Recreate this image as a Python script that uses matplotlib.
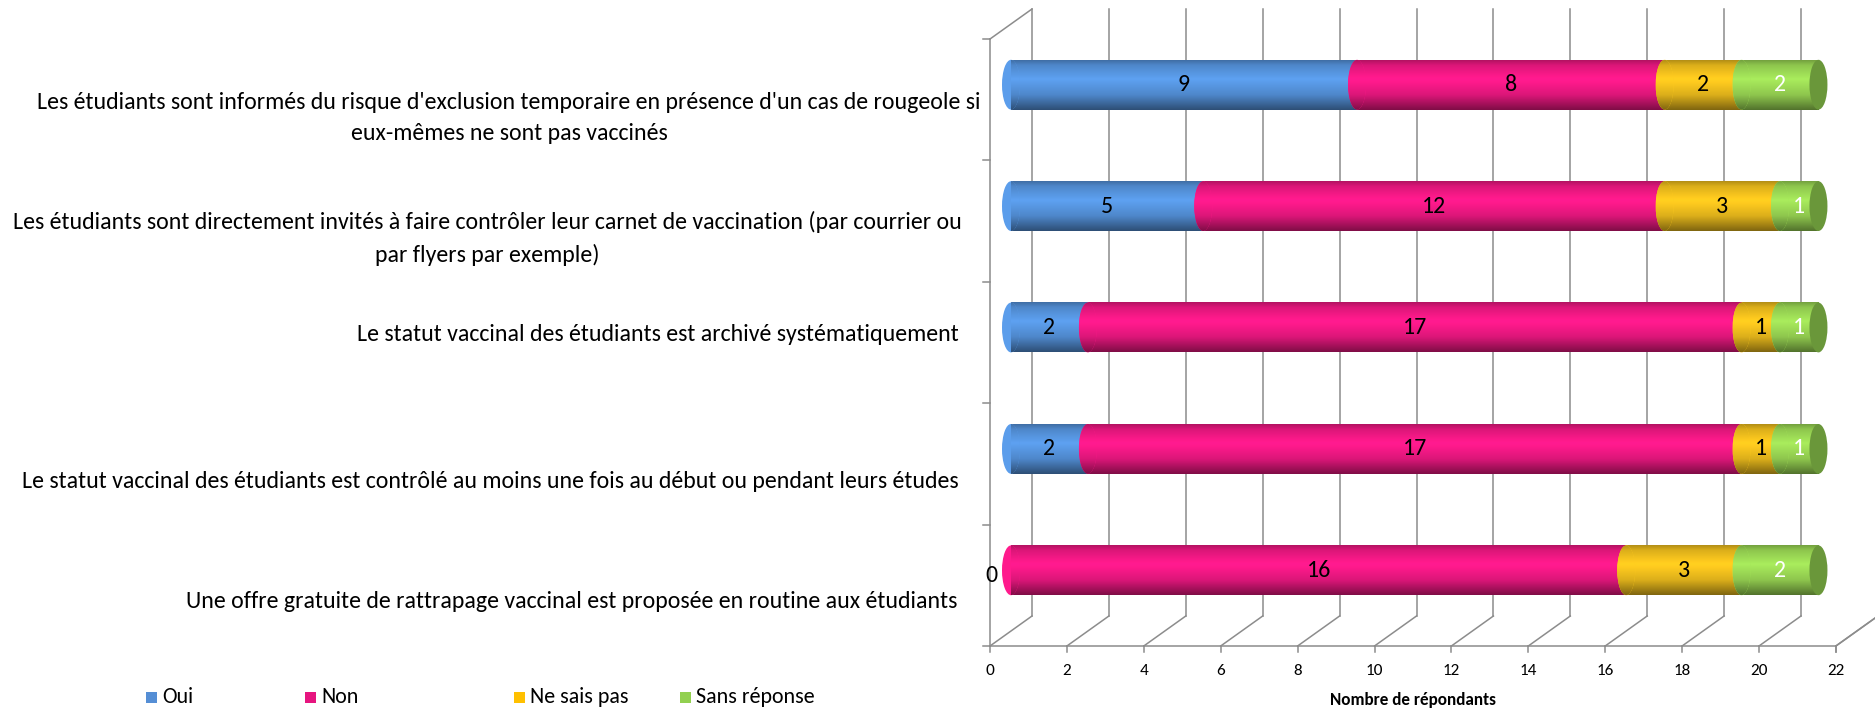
import matplotlib
matplotlib.use('Agg')
import matplotlib.pyplot as plt
import numpy as np
from matplotlib import font_manager
from matplotlib.patches import Ellipse, Rectangle
from matplotlib.colors import to_rgb

# ---------------- data ----------------
categories = [
    "Les étudiants sont informés du risque d'exclusion temporaire en présence d'un cas de rougeole si\neux-mêmes ne sont pas vaccinés",
    "Les étudiants sont directement invités à faire contrôler leur carnet de vaccination (par courrier ou\npar flyers par exemple)",
    "Le statut vaccinal des étudiants est archivé systématiquement",
    "Le statut vaccinal des étudiants est contrôlé au moins une fois au début ou pendant leurs études",
    "Une offre gratuite de rattrapage vaccinal est proposée en routine aux étudiants",
]
series_names = ["Oui", "Non", "Ne sais pas", "Sans réponse"]
oui = [9, 5, 2, 2, 0]
non = [8, 12, 17, 17, 16]
ne_sais_pas = [2, 3, 1, 1, 3]
sans_reponse = [2, 1, 1, 1, 2]
x_ticks = list(range(0, 23, 2))
x_label = "Nombre de répondants"

# ---------------- style ----------------
bar_colors = ['#5B9DEB', '#FF1A8C', '#FFCB1F', '#A5E65A']
legend_colors = ['#558ED5', '#E6157F', '#FFC000', '#92D050']
cap_color = '#6A973A'
label_colors = ['black', 'black', 'black', 'white']
grid_color = '#8C8C8C'

avail = {f.name for f in font_manager.fontManager.ttflist}
FONT = 'DejaVu Sans'
for cand in ['Carlito', 'Liberation Sans Narrow', 'DejaVu Sans Condensed',
             'Roboto Condensed', 'Open Sans Condensed', 'Lato']:
    if cand in avail:
        FONT = cand
        break
plt.rcParams['font.family'] = [FONT, 'DejaVu Sans']

W, H = 1875, 711
fig = plt.figure(figsize=(W / 100, H / 100), dpi=100)
fig.patch.set_facecolor('white')


def fx(px):
    return px / W


def fy(py):
    return 1 - py / H


# mid-depth plane of the 3D box
X0, X1 = 1011, 1011 + 22 * 38.45
Y0, Y1 = 24, 631
n = len(categories)
ax = fig.add_axes([fx(X0), fy(Y1), (X1 - X0) / W, (Y1 - Y0) / H])
ax.set_xlim(0, 22)
ax.set_ylim(n - 0.5, -0.5)
ax.axis('off')

ppx = (X1 - X0) / 22.0       # px per value unit
ppy = (Y1 - Y0) / n          # px per category unit
DX, DY = 21, 15              # half depth in px
dxd = DX / ppx
dyd = DY / ppy
lw = 1.1
ybot = n - 0.5
ytop = -0.5

# back wall gridlines
for k in x_ticks + [22]:
    ax.plot([k + dxd, k + dxd], [ytop - dyd, ybot - dyd], color=grid_color,
            lw=lw, clip_on=False, zorder=1)
    # floor diagonals
    ax.plot([k - dxd, k + dxd], [ybot + dyd, ybot - dyd], color=grid_color,
            lw=lw, clip_on=False, zorder=1)
    # bottom ticks
    ax.plot([k - dxd, k - dxd], [ybot + dyd, ybot + dyd + 6 / ppy],
            color=grid_color, lw=lw, clip_on=False, zorder=1)
# left wall top diagonal
ax.plot([-dxd, dxd], [ytop + dyd, ytop - dyd], color=grid_color, lw=lw,
        clip_on=False, zorder=1)
# front left axis
ax.plot([-dxd, -dxd], [ytop + dyd, ybot + dyd], color=grid_color, lw=lw,
        clip_on=False, zorder=1)
for b in np.arange(ytop, ybot + 0.01, 1.0):
    ax.plot([-dxd - 7 / ppx, -dxd], [b + dyd, b + dyd], color=grid_color,
            lw=lw, clip_on=False, zorder=1)
# front floor line
ax.plot([-dxd, 22 - dxd], [ybot + dyd, ybot + dyd], color=grid_color, lw=lw,
        clip_on=False, zorder=1)

# ---------------- font fitting ----------------
probe = fig.text(0, 0, categories[3], fontsize=10)
fig.canvas.draw()
w10 = probe.get_window_extent().width
probe.remove()
FS = 10 * 939 / w10

# tick labels and axis title
for k in x_ticks:
    ax.text(k - dxd, ybot + dyd + 25 / ppy, str(k), ha='center', va='center',
            fontsize=FS * 0.72, clip_on=False)
ax.text(11 - dxd, ybot + dyd + 54 / ppy, x_label, ha='center', va='center',
        fontsize=FS * 0.72, fontweight='bold', clip_on=False)

# ---------------- cylinders ----------------
tt = np.linspace(0, 1, 120)
prof = np.interp(tt, [0, 0.1, 0.38, 0.7, 0.9, 1.0],
                 [0.70, 0.86, 1.03, 0.86, 0.62, 0.50])


def grad(color):
    rgb = np.array(to_rgb(color))
    img = np.clip(rgb[None, :] * prof[:, None], 0, 1)
    return img[:, None, :]


def shade(patch, color, x0, x1, y0, y1, z):
    im = ax.imshow(grad(color), extent=(x0, x1, y1, y0), aspect='auto',
                   interpolation='bilinear', zorder=z)
    im.set_clip_path(patch)
    im.set_clip_box(None)


bar_h = 0.41
rx = 9 / ppx
series = [oui, non, ne_sais_pas, sans_reponse]
ypos = np.arange(n)
lefts = np.zeros(n)
for s, vals in enumerate(series):
    vals = np.array(vals, dtype=float)
    bars = ax.barh(ypos, vals, left=lefts, height=bar_h, color=bar_colors[s],
                   linewidth=0, zorder=2 + s)
    for i, p in enumerate(bars.patches):
        v = vals[i]
        yc = ypos[i]
        if v <= 0:
            ax.text(lefts[i] - 20 / ppx, yc + 5 / ppy, '0', ha='center',
                    va='center', fontsize=FS, color='black', zorder=10,
                    clip_on=False)
            continue
        x0 = lefts[i]
        x1 = x0 + v
        y0, y1 = yc - bar_h / 2, yc + bar_h / 2
        shade(p, bar_colors[s], x0, x1, y0, y1, 2 + s + 0.01)
        e = Ellipse((x0, yc), 2 * rx, bar_h, facecolor=bar_colors[s],
                    linewidth=0, zorder=2 + s + 0.02, clip_on=False)
        ax.add_patch(e)
        shade(e, bar_colors[s], x0 - rx, x0 + rx, y0, y1, 2 + s + 0.03)
        ax.text(x0 + v / 2, yc, str(int(v)), ha='center', va='center',
                fontsize=FS, color=label_colors[s], zorder=10)
    lefts = lefts + vals

# right end caps
for i in range(n):
    e = Ellipse((lefts[i], ypos[i]), 2 * rx, bar_h, facecolor=cap_color,
                linewidth=0, zorder=7, clip_on=False)
    ax.add_patch(e)

ax.set_xlim(0, 22)
ax.set_ylim(n - 0.5, -0.5)

# ---------------- category labels ----------------
label_x = [509, 487, 959, 959, 957]
label_ha = ['center', 'center', 'right', 'right', 'right']
label_y = [118, 238, 335, 481, 601]
for i, c in enumerate(categories):
    fig.text(fx(label_x[i]), fy(label_y[i]), c, ha=label_ha[i], va='center',
             multialignment='center', fontsize=FS, linespacing=1.6)

# ---------------- legend ----------------
leg_x = [146, 305, 514, 680]
leg_y = 697
for i, name in enumerate(series_names):
    fig.patches.append(Rectangle((fx(leg_x[i]), fy(leg_y + 6)), 11 / W, 11 / H,
                                 transform=fig.transFigure,
                                 facecolor=legend_colors[i], edgecolor='none'))
    fig.text(fx(leg_x[i] + 16), fy(leg_y), name, ha='left', va='center',
             fontsize=FS * 0.92)

fig.savefig('out.png', dpi=100, facecolor='white')
